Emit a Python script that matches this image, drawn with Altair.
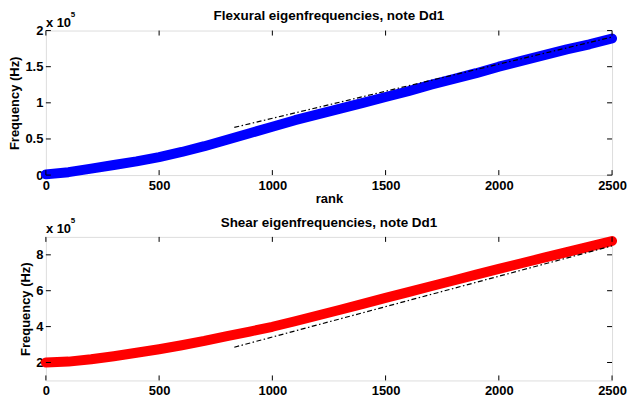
import altair as alt
import pandas as pd

# ---- data (frequencies in units of 1e5 Hz) ----
ranks = [0, 100, 200, 300, 400, 500, 600, 700, 800, 900, 1000, 1100, 1200, 1300,
         1400, 1500, 1600, 1700, 1800, 1900, 2000, 2100, 2200, 2300, 2400, 2500]
flexural = [0.01, 0.04, 0.09, 0.14, 0.19, 0.25, 0.32, 0.40, 0.49, 0.58, 0.67, 0.76,
            0.84, 0.92, 1.00, 1.08, 1.16, 1.25, 1.33, 1.41, 1.50, 1.58, 1.66, 1.74,
            1.81, 1.89]
shear = [2.00, 2.05, 2.18, 2.35, 2.54, 2.74, 2.96, 3.20, 3.47, 3.72, 3.99, 4.30,
         4.62, 4.94, 5.27, 5.60, 5.92, 6.25, 6.57, 6.90, 7.22, 7.53, 7.84, 8.15,
         8.46, 8.77]
asym_ranks = [832, 2500]
flexural_asym = [0.66, 1.91]
shear_asym = [2.85, 8.50]

x_ticks = [0, 500, 1000, 1500, 2000, 2500]
flex_ticks = [0, 0.5, 1, 1.5, 2]
shear_ticks = [2, 4, 6, 8]

W = 568
FONT = "Liberation Sans"
FS = 13
TL = 5  # inward tick length


def panel(values, asym, color, domain, yticks, title, xtitle, H, title_y):
    df = pd.DataFrame({"rank": ranks, "freq": values})
    da = pd.DataFrame({"rank": asym_ranks, "freq": asym})
    xs = alt.Scale(domain=[0, 2500], nice=False, zero=False)
    ys = alt.Scale(domain=domain, nice=False, zero=False)
    common = dict(ticks=False, domain=False, grid=False, labelFont=FONT,
                  labelFontWeight="bold", labelFontSize=FS, labelColor="black",
                  labelFlush=False, labelOverlap=False, tickCount=20)
    if xtitle is None:
        xaxis = alt.Axis(values=x_ticks, format="d", labelPadding=4, title=None,
                         **common)
    else:
        xaxis = alt.Axis(values=x_ticks, format="d", labelPadding=4, title=xtitle,
                         titleFont=FONT, titleFontWeight="bold", titleFontSize=FS,
                         titleColor="black", titlePadding=0, **common)
    yaxis = alt.Axis(values=yticks, format="~g", labelPadding=3,
                     title="Frequency (Hz)", titleFont=FONT, titleFontWeight="bold",
                     titleFontSize=FS, titleColor="black", titlePadding=3, **common)

    curve = alt.Chart(df).mark_line(color=color, strokeWidth=10, strokeCap="round",
                                    strokeJoin="round", clip=False).encode(
        x=alt.X("rank:Q", scale=xs, axis=xaxis),
        y=alt.Y("freq:Q", scale=ys, axis=yaxis),
    )
    dash = alt.Chart(da).mark_line(color="black", strokeWidth=1.2,
                                   strokeDash=[5, 2.5, 1.5, 2.5]).encode(
        x="rank:Q", y="freq:Q")

    xt = pd.DataFrame({"rank": x_ticks})
    yt = pd.DataFrame({"freq": yticks})
    tb = alt.Chart(xt).mark_rule(color="black", strokeWidth=1).encode(
        x="rank:Q", y=alt.value(H), y2=alt.value(H - TL))
    tt = alt.Chart(xt).mark_rule(color="black", strokeWidth=1).encode(
        x="rank:Q", y=alt.value(0), y2=alt.value(TL))
    tl = alt.Chart(yt).mark_rule(color="black", strokeWidth=1).encode(
        y="freq:Q", x=alt.value(0), x2=alt.value(TL))
    tr = alt.Chart(yt).mark_rule(color="black", strokeWidth=1).encode(
        y="freq:Q", x=alt.value(W), x2=alt.value(W - TL))

    one = pd.DataFrame({"a": [0]})
    ttl = alt.Chart(one).mark_text(text=title, font=FONT, fontWeight="bold",
                                   fontSize=13.5, color="black", align="center",
                                   baseline="middle").encode(
        x=alt.value(W / 2), y=alt.value(title_y))
    mult = alt.Chart(one).mark_text(text="x 10", font=FONT, fontWeight="bold",
                                    fontSize=FS, color="black", align="left",
                                    baseline="middle").encode(
        x=alt.value(0), y=alt.value(-8))
    sup = alt.Chart(one).mark_text(text="5", font=FONT, fontWeight="bold",
                                   fontSize=8, color="black", align="left",
                                   baseline="middle").encode(
        x=alt.value(25), y=alt.value(-16))

    return alt.layer(curve, dash, tb, tt, tl, tr, ttl, mult, sup).properties(
        width=W, height=H)


top = panel(flexural, flexural_asym, "#0000ff", [0, 2], flex_ticks,
            "Flexural eigenfrequencies, note Dd1", "rank", 145, -15)
bottom = panel(shear, shear_asym, "#ff0000", [1, 9], shear_ticks,
               "Shear eigenfrequencies, note Dd1", None, 144, -14)

chart = alt.vconcat(top, bottom, spacing=9).properties(
    padding={"left": 0, "top": -1, "right": 0, "bottom": 0}
).configure_view(stroke="black", strokeWidth=1.5).configure(background="white")

chart.save("out.html", embed_options={"renderer": "svg", "actions": False})
